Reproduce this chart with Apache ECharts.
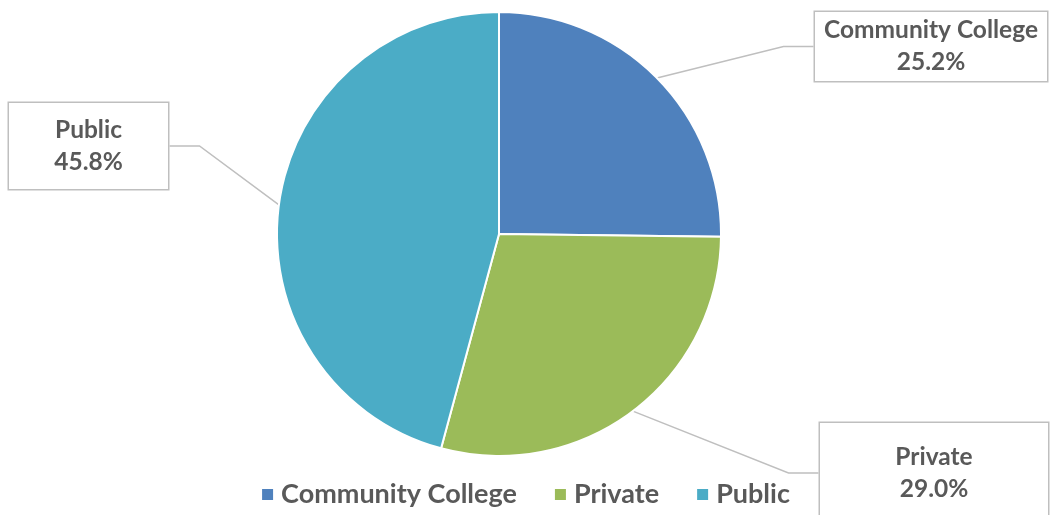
<!DOCTYPE html>
<html>
<head>
<meta charset="utf-8">
<script src="https://cdn.jsdelivr.net/npm/echarts@6/dist/echarts.min.js"></script>
<style>html,body{margin:0;padding:0;background:#fff;}#c{width:1050px;height:515px;}</style>
</head>
<body>
<div id="c"></div>
<script>
const categories = ['Community College', 'Private', 'Public'];
const values = [25.2, 29.0, 45.8];
const colors = ['#4F81BD', '#9BBB59', '#4BACC6'];

// label box layout (styling only)
const boxes = [
  { x: 931, y: 46.5, w: 236, h: 73, pt: 6 },
  { x: 934, y: 473, w: 232, h: 104, pt: 0 },
  { x: 88.5, y: 146, w: 163, h: 90, pt: 5 }
];

const data = categories.map((c, i) => ({
  name: c,
  value: values[i],
  itemStyle: { color: colors[i] },
  label: { width: boxes[i].w - 4, height: boxes[i].h - 4 - boxes[i].pt, padding: [boxes[i].pt, 0, 0, 0] }
}));

const chart = echarts.init(document.getElementById('c'));
chart.setOption({
  animation: false,
  legend: {
    bottom: 2,
    left: 'center',
    itemWidth: 13,
    itemHeight: 13,
    itemGap: 36,
    icon: 'rect',
    textStyle: { fontFamily: 'Lato', fontWeight: 'bold', fontSize: 27, color: '#595959', padding: [0, 0, 0, 2] },
    data: categories
  },
  series: [{
    type: 'pie',
    center: [499, 234],
    radius: 222,
    startAngle: 90,
    clockwise: true,
    data: data,
    itemStyle: { borderColor: '#fff', borderWidth: 2 },
    label: {
      show: true,
      position: 'outside',
      formatter: p => p.name + '\n' + p.value.toFixed(1) + '%',
      fontFamily: 'Lato',
      fontWeight: 'bold',
      fontSize: 24.5,
      lineHeight: 32,
      color: '#595959',
      align: 'center',
      verticalAlign: 'middle',
      backgroundColor: '#fff',
      borderColor: '#BFBFBF',
      borderWidth: 1.5
    },
    labelLine: {
      show: true,
      length: 30,
      length2: 30,
      lineStyle: { color: '#BFBFBF', width: 1.5 }
    },
    labelLayout: function (params) {
      const b = boxes[params.dataIndex];
      return { x: b.x, y: b.y, align: 'center', verticalAlign: 'middle' };
    }
  }]
});
</script>
</body>
</html>
